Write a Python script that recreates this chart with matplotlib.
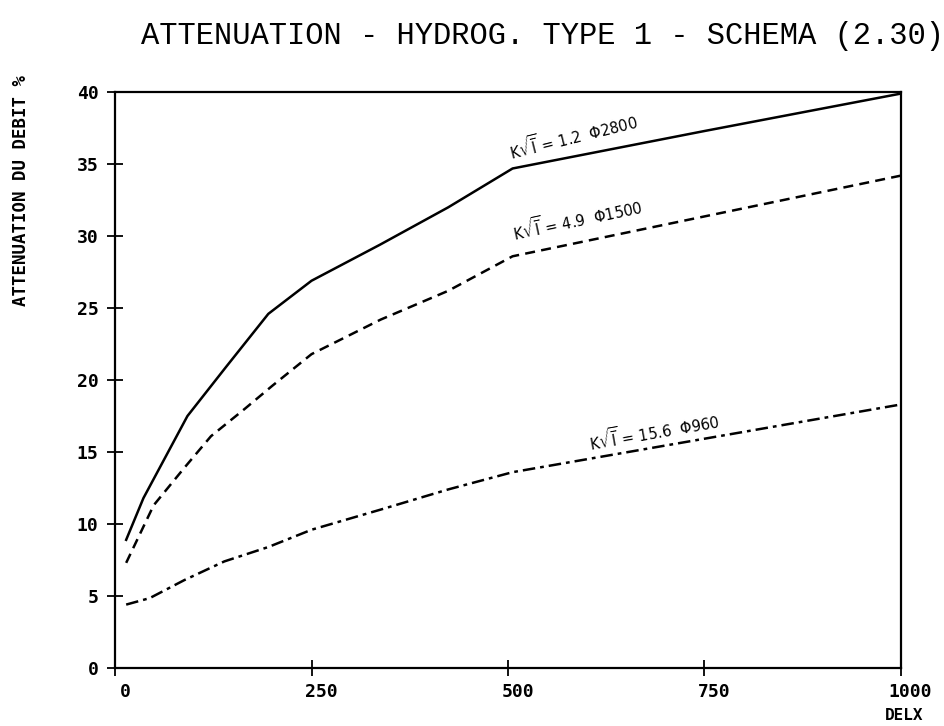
import matplotlib
matplotlib.use("Agg")
from matplotlib import pyplot as plt
from matplotlib import transforms

# ---------- data ----------
delx_1 = [14, 36, 92, 141, 195, 250, 337, 424, 506, 750, 1000]
att_1 = [8.9, 11.8, 17.5, 20.9, 24.6, 26.9, 29.4, 32.0, 34.7, 37.3, 39.9]

delx_2 = [14, 49, 88, 122, 165, 200, 250, 338, 424, 506, 1000]
att_2 = [7.3, 11.3, 13.9, 16.1, 18.0, 19.6, 21.8, 24.2, 26.2, 28.6, 34.2]

delx_3 = [14, 44, 88, 139, 195, 250, 338, 424, 506, 1000]
att_3 = [4.4, 4.85, 6.1, 7.4, 8.4, 9.6, 11.0, 12.4, 13.6, 18.3]

labels = [r"K$\sqrt{\overline{\mathrm{I}}}$ = 1.2  Φ2800",
          r"K$\sqrt{\overline{\mathrm{I}}}$ = 4.9  Φ1500",
          r"K$\sqrt{\overline{\mathrm{I}}}$ = 15.6  Φ960"]
label_x = [583, 588, 686]
label_y = [37.0, 31.2, 16.5]
label_rot = [14, 12, 10]

x_ticks = [0, 250, 500, 750, 1000]
y_ticks = [0, 5, 10, 15, 20, 25, 30, 35, 40]

# ---------- figure ----------
plt.rcParams['font.family'] = ['DejaVu Sans Mono', 'DejaVu Sans']
plt.rcParams['mathtext.fontset'] = 'dejavusans'

fig = plt.figure(figsize=(9.44, 7.26), dpi=100)
ax = fig.add_axes([0.122, 0.080, 0.832, 0.793])

ax.plot(delx_1, att_1, color='k', linewidth=1.8, linestyle='-')
ax.plot(delx_2, att_2, color='k', linewidth=1.8, linestyle=(0, (4, 2.5)))
ax.plot(delx_3, att_3, color='k', linewidth=1.8, linestyle=(0, (5, 2, 1.5, 2)))

for t, x, y, r in zip(labels, label_x, label_y, label_rot):
    ax.text(x, y, t, rotation=r, ha='center', va='center', fontsize=10.5,
            family=['DejaVu Sans', 'DejaVu Sans Mono'])

ax.set_xlim(0, 1000)
ax.set_ylim(0, 40)
ax.set_xticks(x_ticks)
ax.set_yticks(y_ticks)
ax.tick_params(direction='inout', length=12, width=1.3, labelsize=13)
ax.tick_params(axis='x', pad=5)
ax.tick_params(axis='y', pad=6)
shift = transforms.ScaledTranslation(10 / 100, 0, fig.dpi_scale_trans)
for lab in ax.get_xticklabels():
    lab.set_fontweight('bold')
    lab.set_transform(lab.get_transform() + shift)
for lab in ax.get_yticklabels():
    lab.set_fontweight('bold')
for s in ax.spines.values():
    s.set_linewidth(1.6)

fig.text(0.575, 0.95, "ATTENUATION - HYDROG. TYPE 1 - SCHEMA (2.30)",
         ha='center', va='center', fontsize=22, family='Liberation Mono')
fig.text(0.022, 0.738, "ATTENUATION DU DEBIT %", rotation=90, ha='center',
         va='center', fontsize=12.5, fontweight='bold')
fig.text(0.958, 0.015, "DELX", ha='center', va='center', fontsize=11.5,
         fontweight='bold')

plt.savefig("out.png", dpi=100)
